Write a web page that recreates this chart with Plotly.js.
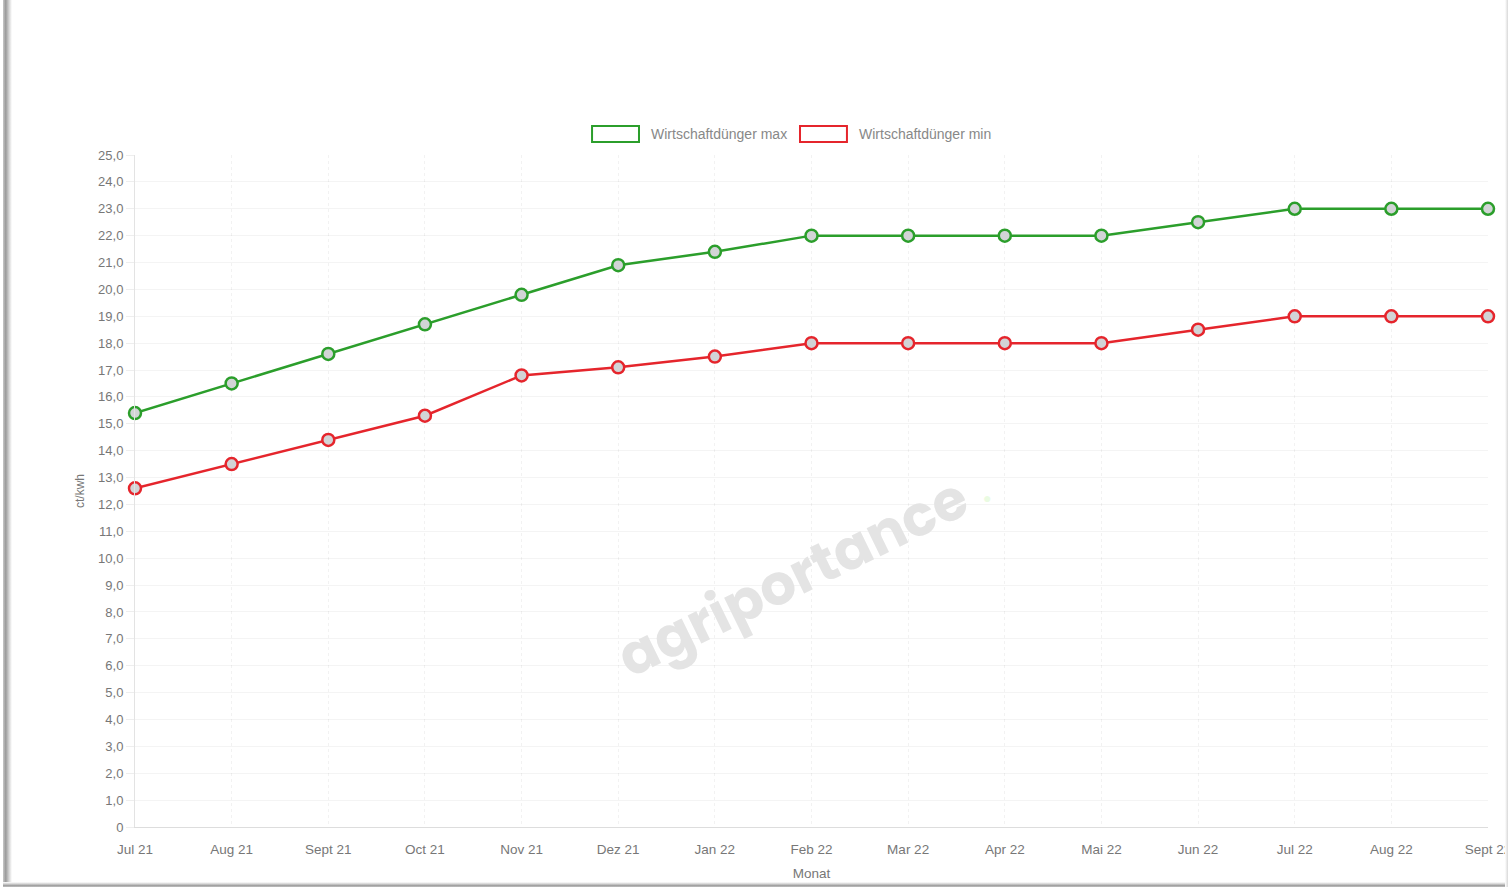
<!DOCTYPE html>
<html>
<head>
<meta charset="utf-8">
<script src="https://cdn.plot.ly/plotly-3.0.1.min.js"></script>
<style>
  html, body { margin: 0; padding: 0; background: #fff; overflow: hidden; }
  #chart { position: absolute; left: 0; top: 0; width: 1508px; height: 887px; }
  .frame-left { position: absolute; left: 3px; top: 0; width: 9px; height: 887px;
    background: linear-gradient(to right, #c8c8c8, #9a9a9a 30%, #d8d8d8 70%, #ffffff); }
  .frame-bottom { position: absolute; left: 3px; top: 882px; width: 1505px; height: 5px;
    background: linear-gradient(to bottom, #ffffff, #d0d0d0 40%, #9a9a9a 75%, #c8c8c8); }
  .frame-right { position: absolute; left: 1505px; top: 0; width: 3px; height: 887px;
    background: linear-gradient(to right, #ffffff, #d8d8d8); }
</style>
</head>
<body>
<div id="chart"></div>
<div class="frame-left"></div>
<div class="frame-bottom"></div>
<div class="frame-right"></div>
<script>
const months = ["Jul 21","Aug 21","Sept 21","Oct 21","Nov 21","Dez 21","Jan 22","Feb 22","Mar 22","Apr 22","Mai 22","Jun 22","Jul 22","Aug 22","Sept 22"];
const maxValues = [15.4, 16.5, 17.6, 18.7, 19.8, 20.9, 21.4, 22.0, 22.0, 22.0, 22.0, 22.5, 23.0, 23.0, 23.0];
const minValues = [12.6, 13.5, 14.4, 15.3, 16.8, 17.1, 17.5, 18.0, 18.0, 18.0, 18.0, 18.5, 19.0, 19.0, 19.0];
const seriesNames = ["Wirtschaftdünger max", "Wirtschaftdünger min"];
const yTickVals = [0,1,2,3,4,5,6,7,8,9,10,11,12,13,14,15,16,17,18,19,20,21,22,23,24,25];
const yTickText = ["0","1,0","2,0","3,0","4,0","5,0","6,0","7,0","8,0","9,0","10,0","11,0","12,0","13,0","14,0","15,0","16,0","17,0","18,0","19,0","20,0","21,0","22,0","23,0","24,0","25,0"];
const yTitle = "ct/kwh";
const xTitle = "Monat";
const watermark = "agriportance";

const green = "#2b9e2b";
const red = "#e5252c";
const fontFam = "Liberation Sans, Arial, sans-serif";

const traces = [
  { x: months, y: maxValues, name: seriesNames[0], type: "scatter", mode: "lines+markers",
    line: { color: green, width: 2.5 },
    marker: { size: 12, color: "#d2d4d6", line: { color: green, width: 2.5 } },
    cliponaxis: false, showlegend: false },
  { x: months, y: minValues, name: seriesNames[1], type: "scatter", mode: "lines+markers",
    line: { color: red, width: 2.5 },
    marker: { size: 12, color: "#d2d4d6", line: { color: red, width: 2.5 } },
    cliponaxis: false, showlegend: false }
];

const layout = {
  width: 1508, height: 887,
  margin: { l: 135, r: 20, t: 155, b: 60 },
  paper_bgcolor: "#ffffff", plot_bgcolor: "#ffffff",
  font: { family: fontFam, size: 13, color: "#777" },
  showlegend: false,
  xaxis: {
    type: "category", range: [0, months.length - 1],
    showgrid: true, gridcolor: "rgba(0,0,0,0.05)", griddash: "dot",
    showline: true, linecolor: "#dddddd", linewidth: 1,
    ticks: "outside", ticklen: 10, tickcolor: "rgba(0,0,0,0)",
    tickfont: { family: fontFam, size: 13.5, color: "#777" },
    title: { text: xTitle, standoff: 12, font: { family: fontFam, size: 13.5, color: "#777" } },
    zeroline: false, automargin: false, fixedrange: true
  },
  yaxis: {
    range: [0, 25], tickvals: yTickVals, ticktext: yTickText,
    showgrid: true, gridcolor: "rgba(0,0,0,0.045)",
    showline: true, linecolor: "#e3e3e3", linewidth: 1,
    ticks: "outside", ticklen: 8, tickcolor: "#eeeeee",
    tickfont: { family: fontFam, size: 13, color: "#777" },
    title: { text: yTitle, standoff: 10, font: { family: fontFam, size: 12, color: "#777" } },
    zeroline: false, automargin: false, fixedrange: true
  },
  shapes: [
    { type: "rect", xref: "paper", yref: "paper", x0: 0.3378, x1: 0.3725, y0: 1.0193, y1: 1.0432,
      line: { color: green, width: 2 }, fillcolor: "#ffffff" },
    { type: "rect", xref: "paper", yref: "paper", x0: 0.4915, x1: 0.5262, y0: 1.0193, y1: 1.0432,
      line: { color: red, width: 2 }, fillcolor: "#ffffff" }
  ],
  annotations: [
    { xref: "paper", yref: "paper", x: 0.3800, y: 1.0312, xanchor: "left", yanchor: "middle",
      text: seriesNames[0], showarrow: false, font: { family: fontFam, size: 14, color: "#888" } },
    { xref: "paper", yref: "paper", x: 0.5338, y: 1.0312, xanchor: "left", yanchor: "middle",
      text: seriesNames[1], showarrow: false, font: { family: fontFam, size: 14, color: "#888" } },
    { xref: "x", yref: "y", x: 6.8, y: 9.3, text: "<b>" + watermark + "</b>", showarrow: false,
      textangle: -26, font: { family: "Poppins, Noto Sans, DejaVu Sans, sans-serif", size: 56, color: "#e4e4e4" } },
    { xref: "x", yref: "y", x: 8.82, y: 12.25, text: "●", showarrow: false,
      font: { size: 14, color: "#eafbe2" } }
  ]
};

Plotly.newPlot("chart", traces, layout, { displayModeBar: false, staticPlot: true });
</script>
</body>
</html>
